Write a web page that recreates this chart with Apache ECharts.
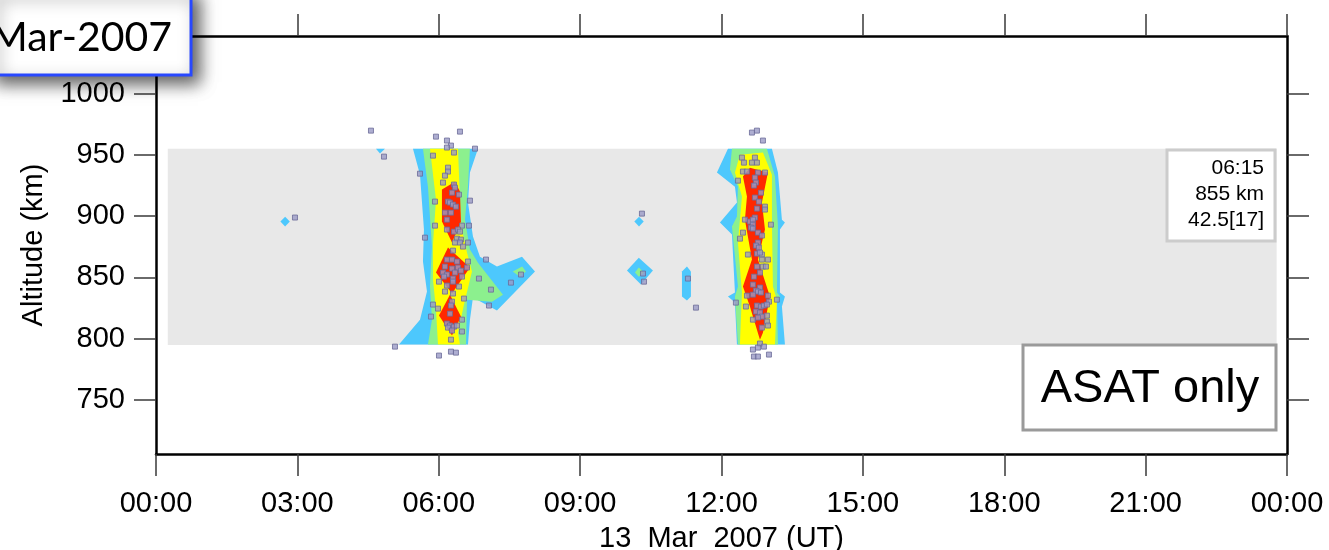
<!DOCTYPE html>
<html><head><meta charset="utf-8">
<script src="https://cdn.jsdelivr.net/npm/echarts@6/dist/echarts.min.js"></script>
<style>html,body{margin:0;padding:0;background:#fff;}#c{width:1329px;height:550px;}</style>
</head><body><div id="c"></div>
<script>
// ---- axis ticks ----
const hourTicks = [0, 3, 6, 9, 12, 15, 18, 21, 24];
const altTicks = [750, 800, 850, 900, 950, 1000];
const xTitle = '13  Mar  2007 (UT)';
const yTitle = 'Altitude (km)';

// ---- sampled band (hours, km) ----
const band = [[0.25, 795], [23.78, 795], [23.78, 955], [0.25, 955]];

// ---- contour polygons, [hour, km] ----
const c1Cyan = [[5.453,955.1],[5.602,933.9],[5.686,889.1],[5.665,863.0],[5.750,838.5],[5.602,815.6],[5.156,795.3],[6.620,795.3],[6.662,815.6],[6.726,833.6],[7.235,823.0],[8.042,854.8],[7.766,867.0],[7.235,858.9],[6.875,867.0],[6.726,883.4],[6.620,911.1],[6.662,935.6],[6.832,955.1]];
const c1Green = [[5.665,955.1],[5.771,924.1],[5.856,875.2],[5.814,842.6],[5.856,815.6],[5.771,795.3],[6.578,795.3],[6.599,831.9],[7.129,830.3],[7.363,836.0],[6.832,862.1],[6.662,872.8],[6.556,897.2],[6.620,924.1],[6.662,955.1]];
const c1GreenArm = [[7.57,854.8],[7.77,858.9],[7.85,854.8],[7.72,850.7]];
const c1Yellow = [[5.814,955.1],[5.941,913.5],[5.877,876.8],[5.877,848.3],[5.941,823.8],[5.984,795.3],[6.450,795.3],[6.408,805.0],[6.535,827.9],[6.705,854.8],[6.599,870.3],[6.471,893.1],[6.408,955.1]];
const c1RedTop = [[6.344,928.2],[6.450,920.1],[6.471,895.6],[6.281,878.5],[6.068,895.6],[6.068,921.7]];
const c1RedMid = [[6.196,874.4],[6.662,858.1],[6.281,836.9],[5.941,854.0]];
const c1RedLow = [[6.238,836.0],[6.471,818.1],[6.281,802.6],[6.005,818.9]];

const c2Cyan = [[12.137,955.1],[11.903,935.6],[12.285,924.1],[12.328,911.1],[11.967,894.8],[12.222,885.0],[12.285,837.7],[12.137,834.4],[12.285,829.5],[12.328,795.3],[13.346,795.3],[13.282,826.3],[13.346,834.4],[13.240,837.7],[13.240,889.1],[13.346,894.8],[13.282,897.2],[13.198,935.6],[13.070,955.1]];
const c2Green = [[12.222,955.1],[12.179,938.0],[12.349,924.1],[12.328,899.7],[12.222,891.5],[12.349,842.6],[12.285,834.4],[12.349,795.3],[13.198,795.3],[13.176,831.9],[13.240,834.4],[13.176,837.7],[13.198,891.5],[13.134,932.3],[12.964,955.1]];
const c2Yellow = [[12.391,950.2],[12.285,935.6],[12.434,916.0],[12.349,878.5],[12.434,837.7],[12.391,795.3],[13.134,795.3],[13.176,831.9],[13.091,842.6],[13.070,897.2],[13.070,933.9],[12.879,951.9]];
const c2Red = [[12.603,939.6],[12.985,935.6],[12.858,911.1],[12.922,889.1],[12.773,864.6],[13.028,834.4],[12.879,805.0],[12.816,799.3],[12.603,826.3],[12.455,842.6],[12.646,864.6],[12.497,897.2],[12.540,916.0],[12.455,932.3]];

const blipA = [[2.74,899.6],[2.84,895.6],[2.74,891.6],[2.64,895.6]];
const blipB = [[4.668,955.1],[4.859,955.1],[4.753,951.1]];
const blipC = [[10.25,899.6],[10.35,895.6],[10.25,891.6],[10.15,895.6]];
const blipDCyan = [[10.245,866.2],[10.545,855.6],[10.290,844.2],[9.994,855.6]];
const blipDGreen = [[10.245,858.1],[10.355,854.0],[10.245,850.7],[10.163,854.0]];
const blipE = [[11.267,858.9],[11.351,854.8],[11.351,834.4],[11.267,831.2],[11.161,834.4],[11.161,854.8]];

// ---- observed objects (hour, km) ----
const dots1 = [[4.562,969.8],[5.941,964.9],[6.174,961.7],[6.450,969.0],[6.259,957.6],[6.174,956.0],[6.769,955.1],[6.323,951.9],[4.838,948.6],[5.877,949.4],[6.196,939.6],[6.196,936.4],[6.132,933.1],[5.602,934.7],[6.090,927.4],[6.323,925.8],[6.344,923.3],[6.281,919.2],[6.429,917.6],[5.920,911.9],[6.662,912.7],[6.196,911.9],[6.238,911.1],[6.302,909.5],[6.365,907.8],[6.132,902.9],[6.259,902.9],[6.174,897.2],[5.920,892.3],[6.493,892.3],[6.641,892.3],[6.174,889.1],[6.323,887.4],[6.408,889.1],[6.450,887.4],[5.708,882.5],[6.387,881.7],[6.471,880.9],[6.344,878.5],[6.450,878.5],[6.620,878.5],[6.514,875.2],[6.302,871.9],[7.002,864.6],[6.174,864.6],[6.281,864.6],[6.387,863.0],[6.620,863.0],[6.132,858.9],[6.281,857.3],[6.408,858.1],[6.471,855.6],[6.599,858.1],[6.090,854.0],[6.174,852.4],[6.344,854.0],[6.111,850.7],[6.302,849.1],[6.493,850.7],[6.853,849.1],[6.005,846.6],[6.302,846.6],[7.532,845.8],[6.174,843.4],[6.429,842.6],[7.108,840.1],[6.132,838.5],[6.302,836.9],[6.535,832.8],[7.066,827.1],[5.877,827.9],[6.281,830.3],[6.259,827.1],[5.984,824.6],[6.238,820.5],[5.835,818.1],[6.493,815.6],[6.174,812.4],[6.238,810.8],[6.323,809.9],[6.387,810.8],[6.196,809.1],[6.281,806.7],[6.493,805.9],[6.259,799.3],[5.071,793.6],[6.259,789.5],[6.365,788.7],[6.005,786.3],[7.745,852.4]];
const dots2 = [[12.646,968.2],[12.752,969.8],[12.879,961.7],[12.434,947.8],[12.476,943.7],[12.709,947.8],[12.646,943.7],[12.752,943.7],[12.455,936.4],[12.540,936.4],[12.773,935.6],[12.922,935.6],[12.709,931.5],[12.349,929.0],[12.731,927.4],[12.688,925.0],[12.837,919.2],[12.709,915.2],[12.794,911.9],[12.752,906.2],[12.922,907.8],[12.922,905.4],[12.497,897.2],[12.709,898.9],[12.603,895.6],[12.667,897.2],[12.667,893.1],[13.049,893.1],[12.624,890.7],[12.667,889.9],[12.773,886.6],[12.858,884.2],[12.455,886.6],[12.392,881.7],[12.773,878.5],[12.731,876.0],[12.794,874.4],[12.561,868.7],[12.858,868.7],[12.752,869.5],[12.816,870.3],[12.986,864.6],[12.858,864.6],[12.752,858.9],[12.879,858.9],[12.943,858.9],[12.816,854.0],[12.688,850.7],[12.667,844.2],[12.816,841.8],[12.731,839.3],[12.773,838.5],[12.540,835.2],[12.667,836.0],[12.837,837.7],[12.986,835.2],[13.007,830.3],[13.176,831.9],[12.306,829.5],[12.518,826.3],[12.752,827.1],[12.837,826.3],[12.900,827.1],[12.964,827.9],[12.731,822.2],[12.816,821.4],[12.858,818.1],[12.773,817.3],[12.964,818.9],[12.964,814.0],[12.986,810.8],[12.667,815.6],[12.858,809.1],[12.816,796.1],[12.773,792.8],[12.900,793.6],[12.667,791.2],[12.688,785.5],[12.773,785.5],[13.007,787.1]];
const dotsOther = [[2.949,898.9],[10.312,902.1],[10.334,853.2],[10.355,846.6],[11.288,849.1],[11.458,825.4]];

// ---- colours ----
const C = { band:'#e8e8e8', cyan:'#4dc8fd', green:'#8cf08e', yellow:'#ffff00', red:'#ff2800' };

const layers = [
  [band, C.band],
  [c1Cyan, C.cyan], [c2Cyan, C.cyan], [blipA, C.cyan], [blipB, C.cyan], [blipC, C.cyan], [blipDCyan, C.cyan], [blipE, C.cyan],
  [c1Green, C.green], [c1GreenArm, C.green], [c2Green, C.green], [blipDGreen, C.green],
  [c1Yellow, C.yellow], [c2Yellow, C.yellow],
  [c1RedTop, C.red], [c1RedMid, C.red], [c1RedLow, C.red], [c2Red, C.red]
];

const FONT = "'Liberation Sans', Arial, Helvetica, sans-serif";
const pad = v => (v < 10 ? '0' : '') + v;

const chart = echarts.init(document.getElementById('c'), null, {renderer:'canvas'});
const tickStyle = {color:'#3a3a3a', width:1.5};
const lineStyle = {color:'#000', width:2.5};
chart.setOption({
  animation:false,
  backgroundColor:'#fff',
  grid:{left:156, right:42, top:36, bottom:96, containLabel:false, outerBoundsMode:'none'},
  xAxis:[
    {type:'value', position:'bottom', min:0, max:24, interval:3,
     axisLine:{show:true, onZero:false, lineStyle:lineStyle}, axisTick:{show:true, inside:false, length:22, lineStyle:tickStyle, customValues:hourTicks},
     axisLabel:{show:true, margin:35, fontSize:29, color:'#000', fontFamily:FONT, customValues:hourTicks, formatter:v=>pad(v%24)+':00'},
     splitLine:{show:false},
     name:xTitle, nameLocation:'middle', nameGap:70, nameTextStyle:{fontSize:29, color:'#000', fontFamily:FONT}},
    {type:'value', position:'top', min:0, max:24, interval:3,
     axisLine:{show:true, onZero:false, lineStyle:lineStyle}, axisTick:{show:true, inside:false, length:22, lineStyle:tickStyle, customValues:hourTicks},
     axisLabel:{show:false}, splitLine:{show:false}}
  ],
  yAxis:[
    {type:'value', position:'left', min:706, max:1047,
     axisLine:{show:true, onZero:false, lineStyle:lineStyle},
     axisTick:{show:true, inside:false, length:22, lineStyle:tickStyle, customValues:altTicks},
     axisLabel:{show:true, margin:31, fontSize:29, color:'#000', fontFamily:FONT, customValues:altTicks, formatter:v=>String(v)},
     splitLine:{show:false},
     name:yTitle, nameLocation:'middle', nameGap:108, nameRotate:90, nameTextStyle:{fontSize:29, color:'#000', fontFamily:FONT}},
    {type:'value', position:'right', min:706, max:1047,
     axisLine:{show:true, onZero:false, lineStyle:lineStyle},
     axisTick:{show:true, inside:false, length:22, lineStyle:tickStyle, customValues:altTicks},
     axisLabel:{show:false, customValues:altTicks}, splitLine:{show:false}}
  ],
  series:[
    {type:'custom', xAxisIndex:0, yAxisIndex:0, z:1,
     data: layers.map((l,i)=>[i]),
     encode:{x:-1, y:-1},
     renderItem:function(params, api){
       const L = layers[params.dataIndex];
       return {type:'polygon', shape:{points:L[0].map(p=>api.coord(p))}, style:{fill:L[1], stroke:null}};
     }},
    {type:'scatter', xAxisIndex:0, yAxisIndex:0, z:3, symbol:'rect', symbolSize:5,
     data: dots1.concat(dots2, dotsOther),
     itemStyle:{color:'#9a9ac6', borderColor:'#6c6c98', borderWidth:1}}
  ],
  graphic:[
    {type:'rect', z:100, shape:{x:1167, y:150, width:108, height:91},
     style:{fill:'#fff', stroke:'#cccccc', lineWidth:3}},
    {type:'text', z:101, x:1264, y:155,
     style:{text:'06:15\n855 km\n42.5[17]', fill:'#000', font:'21px '+FONT, textAlign:'right', textVerticalAlign:'top', lineHeight:26}},
    {type:'rect', z:100, shape:{x:1023, y:345, width:253, height:85},
     style:{fill:'#fff', stroke:'#9a9a9a', lineWidth:3}},
    {type:'text', z:101, x:1150, y:389,
     style:{text:'ASAT only', fill:'#000', font:'47px '+FONT, textAlign:'center', textVerticalAlign:'middle'}},
    {type:'rect', z:110, shape:{x:-10, y:-10, width:201, height:85},
     style:{fill:'#fff', stroke:'#2848ff', lineWidth:3, shadowBlur:16, shadowOffsetX:7, shadowOffsetY:7, shadowColor:'rgba(0,0,0,0.65)'}},
    {type:'text', z:111, x:172, y:38,
     style:{text:'Mar-2007', fill:'#000', font:'41px Lato, sans-serif', textAlign:'right', textVerticalAlign:'middle'}}
  ]
});
</script></body></html>
